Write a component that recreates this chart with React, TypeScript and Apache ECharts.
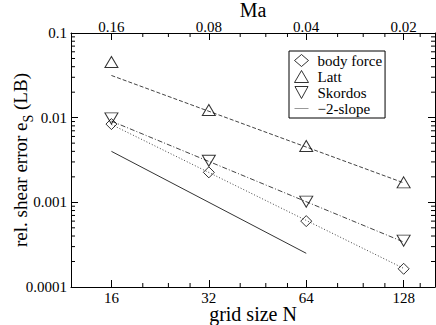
import React, { useEffect, useRef } from 'react';
import * as echarts from 'echarts';

// ---- data ----
const gridSizes = [16, 32, 64, 128];
const machLabels = ['0.16', '0.08', '0.04', '0.02'];
const errorTicks = [0.0001, 0.001, 0.01, 0.1];
const errorTickLabels = ['0.0001', '0.001', '0.01', '0.1'];

const bodyForce = [0.0084, 0.00226, 0.0006, 0.000164];
const latt = [0.0455, 0.0123, 0.00463, 0.00172];
const skordos = [0.0098, 0.0031, 0.00102, 0.000353];

const fitGridSizes = [16, 128];
const bodyForceFit = [0.0083, 0.000166];
const lattFit = [0.0315, 0.0017];
const skordosFit = [0.0091, 0.00034];

const slopeGridSizes = [16, 64];
const slopeRef = [0.004, 0.00025];

const xMinorTicks = [20, 24, 28, 40, 48, 56, 80, 96, 112, 144];
const yMinorTicks = [
  0.0002, 0.0003, 0.0004, 0.0005, 0.0006, 0.0007, 0.0008, 0.0009,
  0.002, 0.003, 0.004, 0.005, 0.006, 0.007, 0.008, 0.009,
  0.02, 0.03, 0.04, 0.05, 0.06, 0.07, 0.08, 0.09,
];

const X_MIN = 12;
const X_MAX = 160;
const Y_MIN = 0.0001;
const Y_MAX = 0.1;

const FONT = '"Liberation Serif", "Times New Roman", "DejaVu Serif", serif';
const BLACK = '#000';

const pairs = (xs: number[], ys: number[]) => xs.map((x, i) => [x, ys[i]]);

export default function App() {
  const ref = useRef<HTMLDivElement>(null);

  useEffect(() => {
    document.body.style.margin = '0';
    if (!ref.current) return;
    const chart = echarts.init(ref.current, undefined, { renderer: 'svg' });

    const tickLabel = { fontFamily: FONT, fontSize: 15, color: BLACK };
    const axisLine = { show: true, onZero: false, lineStyle: { color: BLACK, width: 1 } };
    const majorTick = { show: true, inside: true, length: 7, lineStyle: { color: BLACK, width: 1 } };
    const markerStyle = { color: 'rgba(0,0,0,0)', borderColor: BLACK, borderWidth: 1 };

    const option: any = {
      animation: false,
      backgroundColor: '#fff',
      textStyle: { fontFamily: FONT },
      grid: { left: 71, right: 1, top: 33, bottom: 38, containLabel: false, outerBoundsMode: 'none' },
      xAxis: [
        {
          type: 'log', logBase: 2, min: X_MIN, max: X_MAX, position: 'bottom',
          axisLine, splitLine: { show: false },
          axisTick: { ...majorTick, customValues: gridSizes },
          axisLabel: {
            ...tickLabel, margin: 3, customValues: gridSizes,
            formatter: (v: number) => String(Math.round(v)),
          },
          name: 'grid size N', nameLocation: 'middle', nameGap: 17, nameMoveOverlap: false,
          nameTextStyle: { fontFamily: FONT, fontSize: 20, color: BLACK },
        },
        {
          type: 'log', logBase: 2, min: X_MIN, max: X_MAX, position: 'top',
          axisLine, splitLine: { show: false },
          axisTick: { ...majorTick, customValues: gridSizes },
          axisLabel: {
            ...tickLabel, margin: -1, customValues: gridSizes,
            formatter: (v: number) => {
              const i = Math.round(Math.log2(v)) - 4;
              return machLabels[i] ?? '';
            },
          },
          name: 'Ma', nameLocation: 'middle', nameGap: 13, nameMoveOverlap: false,
          nameTextStyle: { fontFamily: FONT, fontSize: 20, color: BLACK },
        },
      ],
      yAxis: [
        {
          type: 'log', logBase: 10, min: Y_MIN, max: Y_MAX, position: 'left',
          axisLine, splitLine: { show: false },
          axisTick: { ...majorTick, customValues: errorTicks },
          axisLabel: {
            ...tickLabel, margin: 4, customValues: errorTicks,
            formatter: (v: number) => errorTickLabels[Math.round(Math.log10(v)) + 4] ?? '',
          },
          name: '{a|rel. shear error e}{b|S}{a| (LB)}',
          nameLocation: 'middle', nameGap: 36, nameMoveOverlap: false,
          nameTextStyle: {
            fontFamily: FONT, fontSize: 19, color: BLACK, padding: [0, 0, 0, 0],
            rich: {
              a: { fontFamily: FONT, fontSize: 19, color: BLACK, lineHeight: 24, verticalAlign: 'top' },
              b: { fontFamily: FONT, fontSize: 14, color: BLACK, verticalAlign: 'bottom' },
            },
          },
        },
        {
          type: 'log', logBase: 10, min: Y_MIN, max: Y_MAX, position: 'right',
          axisLine, splitLine: { show: false },
          axisTick: { ...majorTick, customValues: errorTicks },
          axisLabel: { show: false },
        },
      ],
      legend: {
        orient: 'vertical', left: 289, top: 51,
        selectedMode: false,
        data: [
          { name: 'body force' },
          { name: 'Latt' },
          { name: 'Skordos' },
          { name: '\u22122-slope', icon: 'path://M0,0H14V1H0Z', itemStyle: { color: '#999', borderWidth: 0 } },
        ],
        itemWidth: 14, itemHeight: 12, itemGap: 1,
        padding: [2, 3, 2, 5],
        borderColor: BLACK, borderWidth: 1, borderRadius: 0,
        itemStyle: { borderWidth: 1 },
        textStyle: { fontFamily: FONT, fontSize: 15, color: BLACK, padding: [0, 0, 0, 4] },
      },
      series: [
        {
          name: 'body force fit', type: 'line', symbol: 'none', z: 2,
          data: pairs(fitGridSizes, bodyForceFit),
          lineStyle: { color: '#444', width: 1, type: [1, 2] },
        },
        {
          name: 'Latt fit', type: 'line', symbol: 'none', z: 2,
          data: pairs(fitGridSizes, lattFit),
          lineStyle: { color: '#444', width: 1, type: [4, 2] },
        },
        {
          name: 'Skordos fit', type: 'line', symbol: 'none', z: 2,
          data: pairs(fitGridSizes, skordosFit),
          lineStyle: { color: '#444', width: 1, type: [5, 2, 1, 2] },
        },
        {
          name: '\u22122-slope', type: 'line', symbol: 'none', z: 2,
          data: pairs(slopeGridSizes, slopeRef),
          lineStyle: { color: '#333', width: 1, type: 'solid' },
        },
        {
          name: 'body force', type: 'scatter', symbol: 'diamond', symbolSize: 11, z: 4,
          data: pairs(gridSizes, bodyForce), itemStyle: markerStyle,
        },
        {
          name: 'Latt', type: 'scatter', symbol: 'triangle', symbolSize: [13, 11], z: 4,
          data: pairs(gridSizes, latt), itemStyle: markerStyle,
        },
        {
          name: 'Skordos', type: 'scatter', symbol: 'path://M0,0L12,0L6,11Z', symbolSize: [13, 11], z: 4,
          data: pairs(gridSizes, skordos), itemStyle: markerStyle,
        },
        {
          name: 'x minor ticks', type: 'custom', coordinateSystem: 'cartesian2d', silent: true, clip: false, z: 5,
          data: xMinorTicks.map((v) => [v, Y_MIN]),
          renderItem: (_p: any, api: any) => {
            const v = api.value(0);
            const b = api.coord([v, Y_MIN]);
            const t = api.coord([v, Y_MAX]);
            const st = { stroke: BLACK, lineWidth: 1 };
            return {
              type: 'group',
              children: [
                { type: 'line', shape: { x1: b[0], y1: b[1], x2: b[0], y2: b[1] - 4 }, style: st },
                { type: 'line', shape: { x1: t[0], y1: t[1], x2: t[0], y2: t[1] + 4 }, style: st },
              ],
            };
          },
        },
        {
          name: 'y minor ticks', type: 'custom', coordinateSystem: 'cartesian2d', silent: true, clip: false, z: 5,
          data: yMinorTicks.map((v) => [X_MIN, v]),
          renderItem: (_p: any, api: any) => {
            const v = api.value(1);
            const l = api.coord([X_MIN, v]);
            const r = api.coord([X_MAX, v]);
            const st = { stroke: BLACK, lineWidth: 1 };
            return {
              type: 'group',
              children: [
                { type: 'line', shape: { x1: l[0], y1: l[1], x2: l[0] + 4, y2: l[1] }, style: st },
                { type: 'line', shape: { x1: r[0], y1: r[1], x2: r[0] - 4, y2: r[1] }, style: st },
              ],
            };
          },
        },
      ],
    };

    chart.setOption(option);
    return () => chart.dispose();
  }, []);

  return <div ref={ref} style={{ width: 436, height: 325 }} />;
}
